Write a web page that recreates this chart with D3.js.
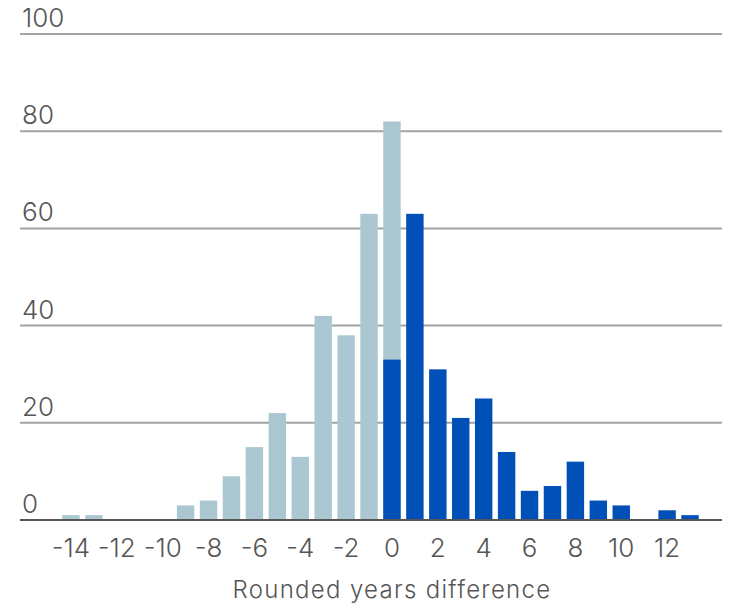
<!DOCTYPE html>
<html>
<head>
<meta charset="utf-8">
<script src="https://cdn.jsdelivr.net/npm/d3@7"></script>
<style>
  html, body { margin: 0; padding: 0; background: #fff; }
  svg { display: block; }
  text { font-family: Inter, "Noto Sans", sans-serif; fill: #555; font-weight: 300; }
</style>
</head>
<body>
<svg id="chart" width="729" height="609"></svg>
<script>
// Data
const years = [-14,-13,-12,-11,-10,-9,-8,-7,-6,-5,-4,-3,-2,-1,0,1,2,3,4,5,6,7,8,9,10,11,12,13];
const lightValues = [1,1,0,0,0,3,4,9,15,22,13,42,38,63,82,0,0,0,0,0,0,0,0,0,0,0,0,0];
const darkValues  = [0,0,0,0,0,0,0,0,0,0,0,0,0,0,33,63,31,21,25,14,6,7,12,4,3,0,2,1];
const yTicks = [0,20,40,60,80,100];
const xTickLabels = [-14,-12,-10,-8,-6,-4,-2,0,2,4,6,8,10,12];
const xTitle = "Rounded years difference";

const svg = d3.select("#chart");
const gridLeft = 20, gridRight = 722;

const x = d3.scaleBand().domain(years).range([59.5, 701.5]).paddingInner(0.24).paddingOuter(0.12);
const y = d3.scaleLinear().domain([0, 100]).range([520, 34]);

// gridlines
svg.append("g").selectAll("line").data(yTicks.filter(d => d !== 0)).join("line")
  .attr("x1", gridLeft).attr("x2", gridRight)
  .attr("y1", d => y(d)).attr("y2", d => y(d))
  .attr("stroke", "#a3a3a3").attr("stroke-width", 2);

// y labels
svg.append("g").selectAll("text").data(yTicks).join("text")
  .attr("x", 22).attr("y", d => y(d) - 7)
  .attr("font-size", 26)
  .text(d => d);

// light bars
const lightData = years.map((yr, i) => ({yr, v: lightValues[i]})).filter(d => d.v > 0);
svg.append("g").selectAll("rect").data(lightData).join("rect")
  .attr("x", d => x(d.yr)).attr("width", x.bandwidth())
  .attr("y", d => y(d.v)).attr("height", d => y(0) - y(d.v))
  .attr("fill", "#abc7d1");

// dark bars
const darkData = years.map((yr, i) => ({yr, v: darkValues[i]})).filter(d => d.v > 0);
svg.append("g").selectAll("rect").data(darkData).join("rect")
  .attr("x", d => x(d.yr)).attr("width", x.bandwidth())
  .attr("y", d => y(d.v)).attr("height", d => y(0) - y(d.v))
  .attr("fill", "#0050b8");

// baseline
svg.append("line")
  .attr("x1", gridLeft).attr("x2", gridRight)
  .attr("y1", y(0)).attr("y2", y(0))
  .attr("stroke", "#555").attr("stroke-width", 2);

// x axis labels
const xAxis = d3.axisBottom(x).tickValues(xTickLabels).tickSize(0).tickPadding(0)
  .tickFormat(d => d < 0 ? "-" + Math.abs(d) : String(d));
const gx = svg.append("g").attr("transform", `translate(0, ${y(0)})`).call(xAxis);
gx.select(".domain").remove();
gx.selectAll("text")
  .attr("dy", 0).attr("y", 37)
  .attr("font-size", 26)
  .style("font-family", "Inter, 'Noto Sans', sans-serif")
  .style("font-weight", 300)
  .attr("fill", "#555");

// x title
svg.append("text")
  .attr("x", 392).attr("y", 598)
  .attr("text-anchor", "middle")
  .attr("font-size", 24)
  .attr("letter-spacing", 1.3)
  .text(xTitle);
</script>
</body>
</html>
